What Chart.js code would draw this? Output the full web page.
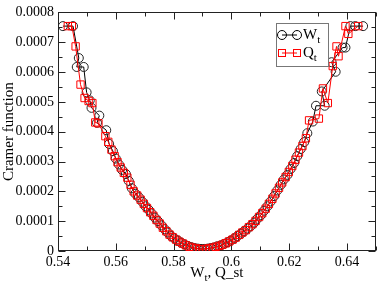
<!DOCTYPE html>
<html>
<head>
<meta charset="utf-8">
<script src="https://cdn.jsdelivr.net/npm/chart.js@4"></script>
<style>
  html, body { margin: 0; padding: 0; background: #fff; }
  #wrap { width: 382px; height: 286px; }
</style>
</head>
<body>
<div id="wrap"><canvas id="cramerChart" width="382" height="286"></canvas></div>
<script>
// W_t (black circles)
const wtX = [0.5417, 0.5452, 0.5472, 0.5465, 0.5489, 0.5499, 0.5510, 0.5516, 0.5543, 0.5535,
  0.5567, 0.5577, 0.5590, 0.5600, 0.5611, 0.5622, 0.5635, 0.5645, 0.5656, 0.5668,
  0.5680, 0.5692, 0.5703, 0.5714, 0.5724, 0.5735, 0.5746, 0.5758, 0.5769, 0.5780,
  0.5792, 0.5803, 0.5815, 0.5826, 0.5838, 0.5849, 0.5861, 0.5872, 0.5884, 0.5895,
  0.5906, 0.5918, 0.5929, 0.5941, 0.5952, 0.5964, 0.5975, 0.5987, 0.5998, 0.6010,
  0.6021, 0.6033, 0.6044, 0.6056, 0.6067, 0.6079, 0.6090, 0.6102, 0.6113, 0.6125,
  0.6136, 0.6148, 0.6159, 0.6171, 0.6182, 0.6194, 0.6205, 0.6217, 0.6228, 0.6240,
  0.6252, 0.6263, 0.6282, 0.6293, 0.6323, 0.6313, 0.6361, 0.6347, 0.6385, 0.6395,
  0.6412, 0.6429, 0.6456];
const wtY = [0.000754, 0.000754, 0.000647, 0.000617, 0.000617, 0.000532, 0.000505, 0.000480, 0.000454, 0.000430,
  0.000405, 0.000359, 0.000335, 0.000310, 0.000290, 0.000272, 0.000258, 0.000235, 0.000210, 0.000192,
  0.000180, 0.000165, 0.000150, 0.000138, 0.000126, 0.000112, 0.000100, 0.000086, 0.000073, 0.000062,
  0.000050, 0.000042, 0.000035, 0.000028, 0.000022, 0.000017, 0.000013, 0.000010, 0.000008, 0.000007,
  0.000007, 0.000008, 0.000010, 0.000012, 0.000016, 0.000019, 0.000024, 0.000029, 0.000035, 0.000042,
  0.000050, 0.000058, 0.000066, 0.000075, 0.000084, 0.000095, 0.000108, 0.000120, 0.000135, 0.000150,
  0.000166, 0.000184, 0.000203, 0.000222, 0.000240, 0.000255, 0.000275, 0.000295, 0.000318, 0.000342,
  0.000365, 0.000395, 0.000434, 0.000487, 0.000487, 0.000535, 0.000601, 0.000633, 0.000682, 0.000682,
  0.000754, 0.000754, 0.000754];

// Q_t (red squares)
const qtX = [0.5434, 0.5448, 0.5461, 0.5478, 0.5492, 0.5506, 0.5519, 0.5529, 0.5540, 0.5564,
  0.5574, 0.5585, 0.5596, 0.5606, 0.5617, 0.5628, 0.5640, 0.5651, 0.5662, 0.5674,
  0.5686, 0.5697, 0.5708, 0.5719, 0.5730, 0.5741, 0.5752, 0.5763, 0.5775, 0.5786,
  0.5797, 0.5809, 0.5820, 0.5832, 0.5843, 0.5855, 0.5866, 0.5878, 0.5889, 0.5900,
  0.5912, 0.5923, 0.5935, 0.5946, 0.5958, 0.5969, 0.5981, 0.5992, 0.6004, 0.6015,
  0.6027, 0.6038, 0.6050, 0.6061, 0.6073, 0.6084, 0.6096, 0.6107, 0.6119, 0.6130,
  0.6142, 0.6153, 0.6165, 0.6176, 0.6188, 0.6199, 0.6211, 0.6222, 0.6234, 0.6246,
  0.6258, 0.6269, 0.6303, 0.6317, 0.6334, 0.6351, 0.6364, 0.6371, 0.6395, 0.6405,
  0.6439];
const qtY = [0.000754, 0.000754, 0.000686, 0.000558, 0.000513, 0.000503, 0.000496, 0.000431, 0.000428, 0.000385,
  0.000366, 0.000340, 0.000318, 0.000298, 0.000280, 0.000262, 0.000246, 0.000222, 0.000200, 0.000186,
  0.000172, 0.000158, 0.000144, 0.000130, 0.000118, 0.000104, 0.000092, 0.000078, 0.000066, 0.000055,
  0.000046, 0.000038, 0.000031, 0.000025, 0.000019, 0.000014, 0.000011, 0.000009, 0.000006, 0.000006,
  0.000007, 0.000009, 0.000011, 0.000014, 0.000017, 0.000021, 0.000026, 0.000032, 0.000038, 0.000045,
  0.000054, 0.000062, 0.000070, 0.000080, 0.000090, 0.000101, 0.000114, 0.000127, 0.000142, 0.000158,
  0.000175, 0.000193, 0.000212, 0.000230, 0.000248, 0.000265, 0.000285, 0.000306, 0.000330, 0.000352,
  0.000378, 0.000438, 0.000444, 0.000545, 0.000496, 0.000620, 0.000686, 0.000653, 0.000754, 0.000728,
  0.000754];

const xTicks = [0.54, 0.56, 0.58, 0.6, 0.62, 0.64];
const yTicks = [0, 0.0001, 0.0002, 0.0003, 0.0004, 0.0005, 0.0006, 0.0007, 0.0008];

const red = '#ff0000';
const black = '#000000';
const serif = 'Liberation Serif';

const toPoints = (xs, ys) => xs.map((x, i) => ({ x: x, y: ys[i] }));

// text with subscripts: parts = [[text, isSub], ...]
function drawSubText(ctx, parts, x, y, size, align) {
  const subSize = Math.round(size * 0.7);
  let total = 0;
  parts.forEach(p => {
    ctx.font = (p[1] ? subSize : size) + 'px "' + serif + '"';
    total += ctx.measureText(p[0]).width;
  });
  let cx = align === 'center' ? x - total / 2 : x;
  ctx.textAlign = 'left';
  ctx.textBaseline = 'alphabetic';
  parts.forEach(p => {
    ctx.font = (p[1] ? subSize : size) + 'px "' + serif + '"';
    ctx.fillText(p[0], cx, p[1] ? y + 4 : y);
    cx += ctx.measureText(p[0]).width;
  });
}

// frame box with inward ticks on all four sides
const frameTicks = {
  id: 'frameTicks',
  beforeDatasetsDraw(chart) {
    const { ctx, chartArea: a, scales: { x, y } } = chart;
    const L = Math.round(a.left) + 0.5, R = Math.round(a.right) - 0.5;
    const T = Math.round(a.top) + 0.5, B = Math.round(a.bottom) - 0.5;
    ctx.save();
    ctx.strokeStyle = '#222';
    ctx.lineWidth = 1;
    ctx.strokeRect(L, T, R - L, B - T);
    ctx.beginPath();
    xTicks.forEach(v => {
      [[v, 7], [v + 0.01, 4]].forEach(([val, len]) => {
        if (val > x.max + 1e-9) return;
        const px = Math.round(x.getPixelForValue(val)) + 0.5;
        ctx.moveTo(px, B); ctx.lineTo(px, B - len);
        ctx.moveTo(px, T); ctx.lineTo(px, T + len);
      });
    });
    yTicks.forEach(v => {
      [[v, 7], [v + 0.00005, 4]].forEach(([val, len]) => {
        if (val > y.max + 1e-12) return;
        const py = Math.round(y.getPixelForValue(val)) + 0.5;
        ctx.moveTo(L, py); ctx.lineTo(L + len, py);
        ctx.moveTo(R, py); ctx.lineTo(R - len, py);
      });
    });
    ctx.stroke();
    ctx.restore();
  },
  afterDraw(chart) {
    const { ctx, chartArea: a } = chart;
    ctx.save();
    ctx.fillStyle = black;
    // x axis title
    drawSubText(ctx, [['W', false], ['t', true], [', Q_st', false]], (a.left + a.right) / 2, 277, 15, 'center');

    // legend box
    ctx.fillStyle = '#fff';
    ctx.fillRect(276.5, 23.5, 52, 43);
    ctx.strokeStyle = '#777';
    ctx.lineWidth = 1;
    ctx.strokeRect(276.5, 23.5, 52, 43);

    // W_t row
    ctx.strokeStyle = black;
    ctx.beginPath(); ctx.moveTo(282, 35); ctx.lineTo(297, 35); ctx.stroke();
    [282, 297].forEach(cx => {
      ctx.beginPath(); ctx.arc(cx, 35, 4.5, 0, Math.PI * 2); ctx.stroke();
    });
    ctx.fillStyle = black;
    drawSubText(ctx, [['W', false], ['t', true]], 303, 39, 15, 'left');

    // Q_t row
    ctx.strokeStyle = red;
    ctx.beginPath(); ctx.moveTo(282, 53); ctx.lineTo(297, 53); ctx.stroke();
    [282, 297].forEach(cx => {
      ctx.strokeRect(cx - 3.5, 53 - 3.5, 7, 7);
    });
    ctx.fillStyle = black;
    drawSubText(ctx, [['Q', false], ['t', true]], 303, 57, 15, 'left');
    ctx.restore();
  }
};

const ctx = document.getElementById('cramerChart').getContext('2d');

new Chart(ctx, {
  type: 'scatter',
  data: {
    datasets: [
      {
        label: 'Q_t',
        data: toPoints(qtX, qtY),
        showLine: true,
        borderColor: red,
        borderWidth: 1,
        pointStyle: 'rect',
        pointRadius: 5.2,
        pointBorderColor: red,
        pointBackgroundColor: 'rgba(0,0,0,0)',
        pointBorderWidth: 1
      },
      {
        label: 'W_t',
        data: toPoints(wtX, wtY),
        showLine: true,
        borderColor: black,
        borderWidth: 1,
        pointStyle: 'circle',
        pointRadius: 4.5,
        pointBorderColor: '#222',
        pointBackgroundColor: 'rgba(0,0,0,0)',
        pointBorderWidth: 1
      }
    ]
  },
  options: {
    responsive: false,
    animation: false,
    events: [],
    layout: { padding: { top: 6, right: 1, left: 0, bottom: 0 } },
    plugins: {
      legend: { display: false },
      tooltip: { enabled: false }
    },
    scales: {
      x: {
        type: 'linear',
        min: 0.54,
        max: 0.65,
        afterBuildTicks: s => { s.ticks = xTicks.map(v => ({ value: v })); },
        afterFit: s => { s.height = 35; },
        grid: { display: false, drawTicks: false },
        border: { display: false },
        ticks: {
          padding: 3,
          color: black,
          font: { family: serif, size: 14 },
          maxRotation: 0,
          callback: v => String(v)
        }
      },
      y: {
        type: 'linear',
        min: 0,
        max: 0.0008,
        afterBuildTicks: s => { s.ticks = yTicks.map(v => ({ value: v })); },
        afterFit: s => { s.width = 58; },
        grid: { display: false, drawTicks: false },
        border: { display: false },
        ticks: {
          padding: 4,
          color: black,
          font: { family: serif, size: 14 },
          callback: v => String(v)
        },
        title: {
          display: true,
          text: 'Cramer function',
          color: black,
          padding: 0,
          font: { family: serif, size: 15 }
        }
      }
    }
  },
  plugins: [frameTicks]
});
</script>
</body>
</html>
